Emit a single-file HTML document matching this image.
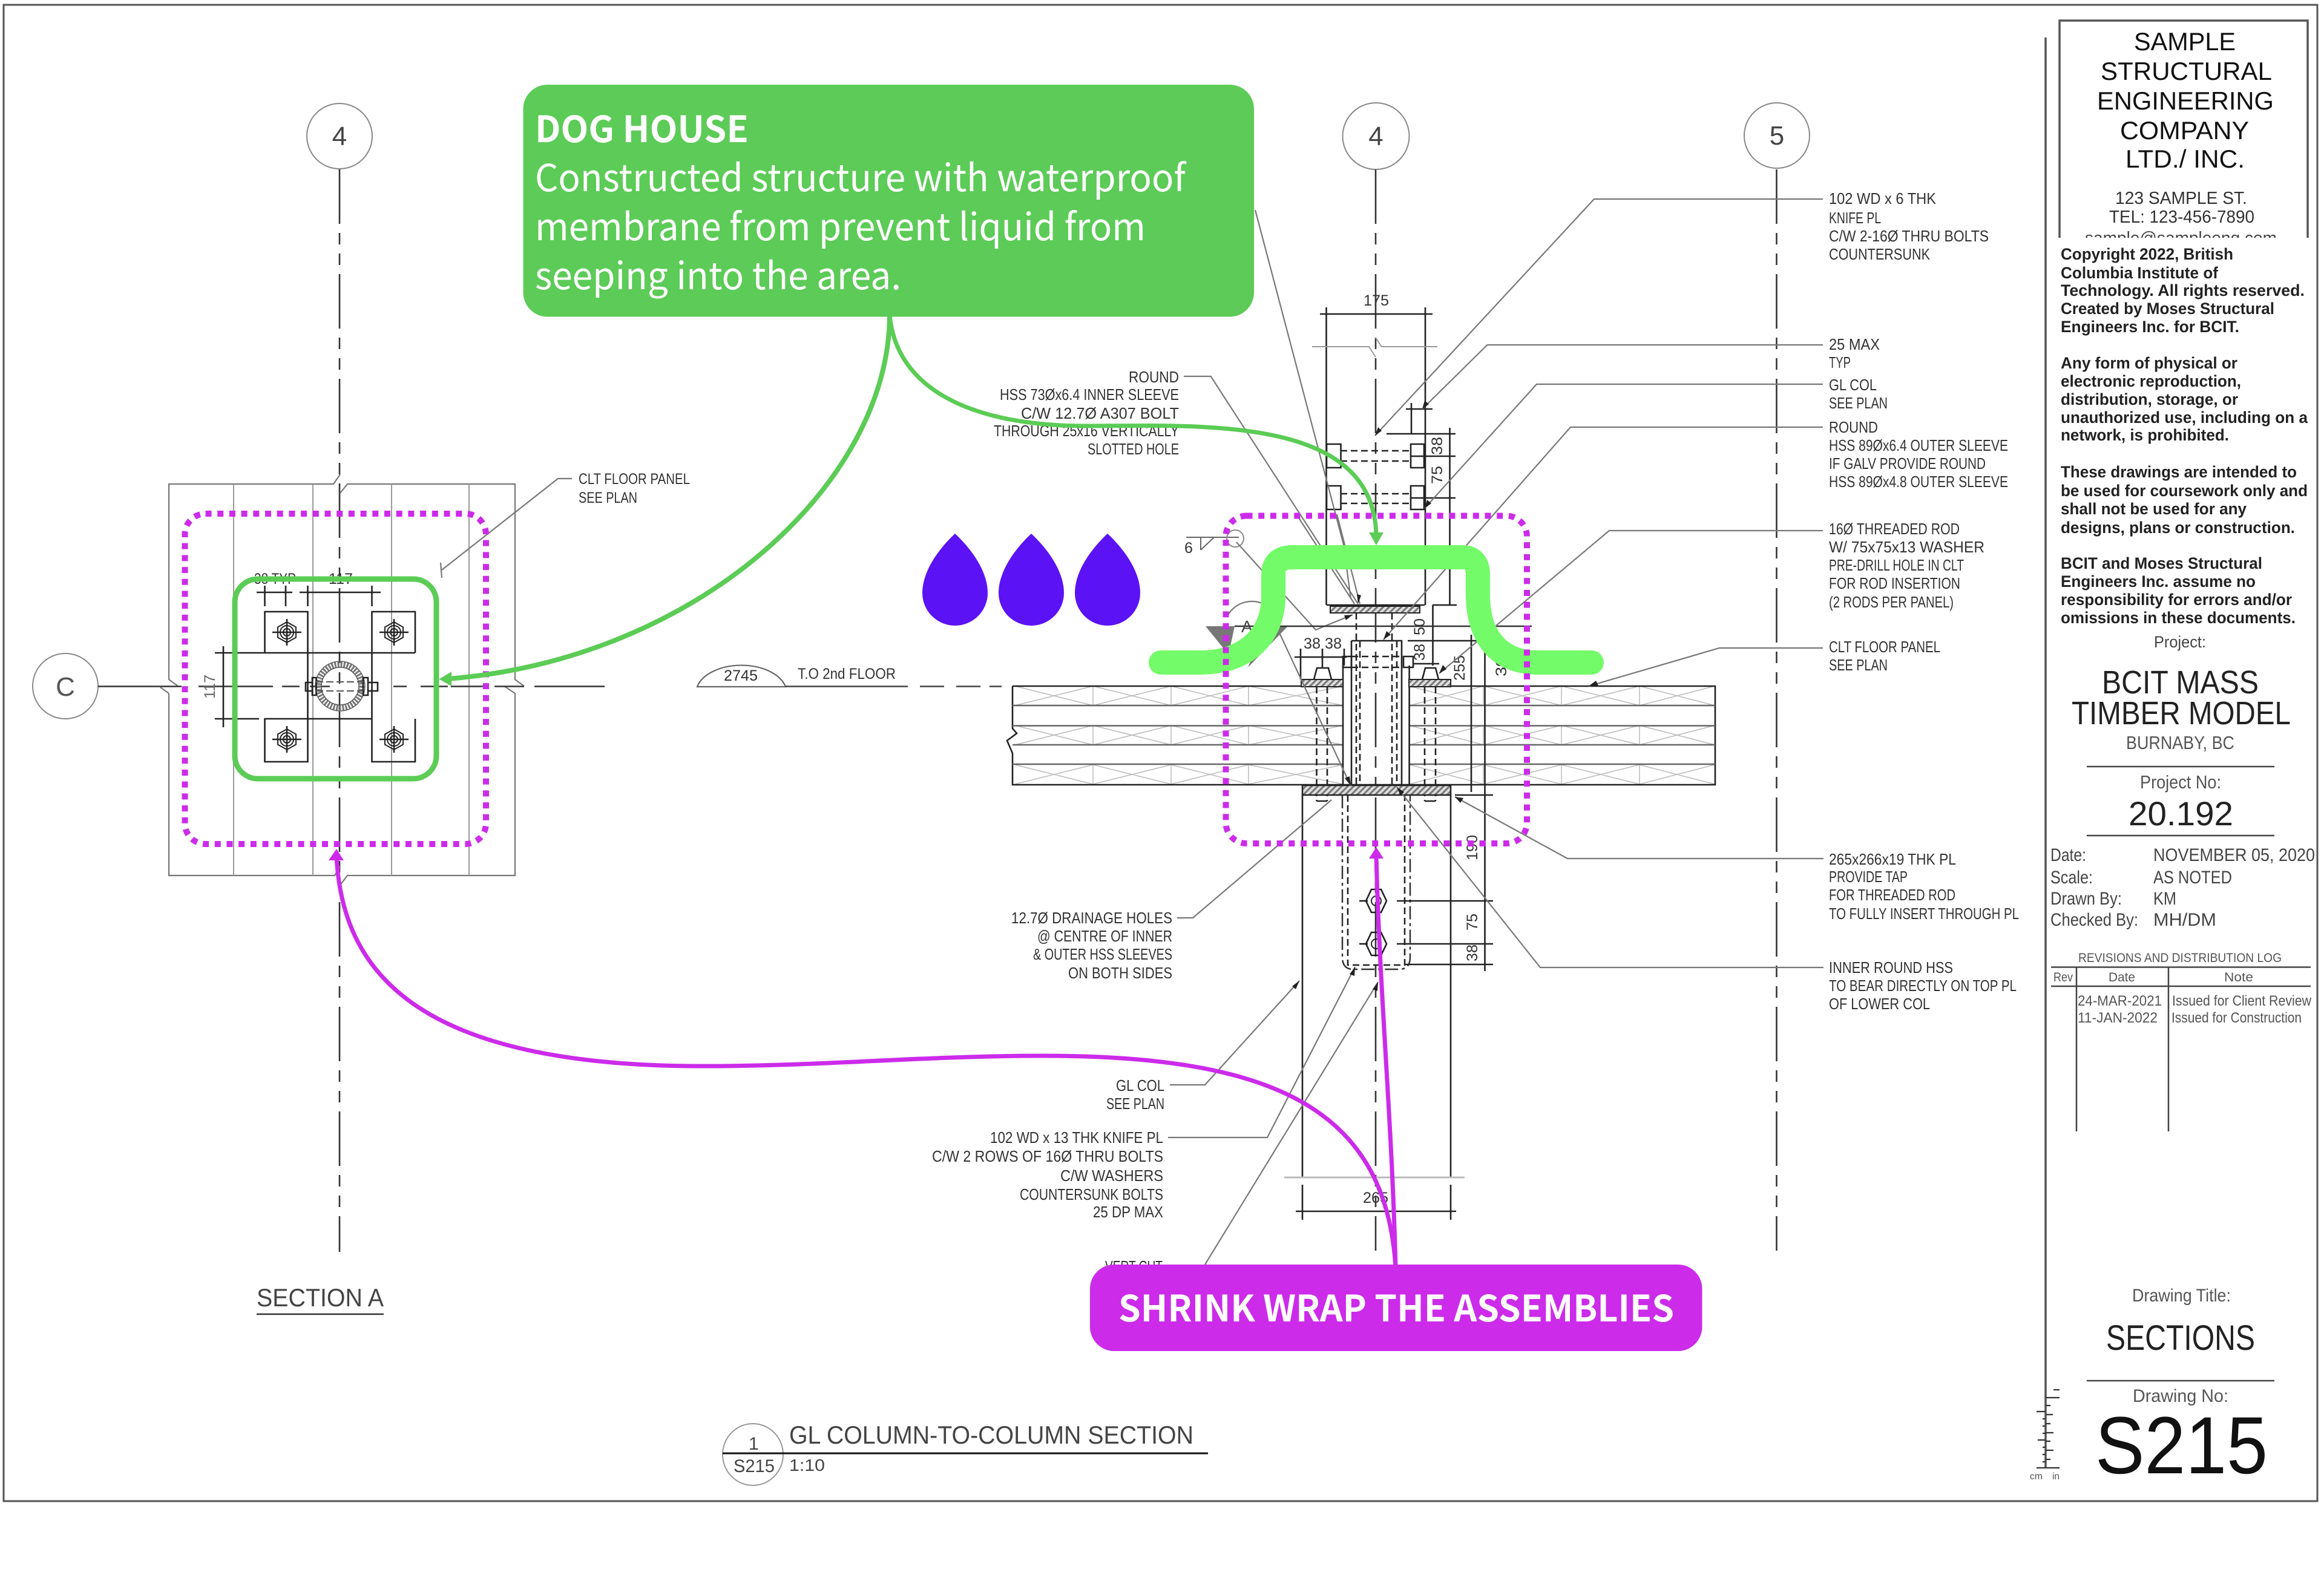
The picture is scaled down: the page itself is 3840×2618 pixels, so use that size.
<!DOCTYPE html>
<html><head><meta charset="utf-8"><title>S215 Sections</title>
<style>
html,body{margin:0;padding:0;background:#fff;width:3840px;height:2618px;overflow:hidden}
svg{display:block}
text{font-family:"Liberation Sans",sans-serif;fill:#333}
.t{font-size:25px}
.o{fill:none;stroke:#222;stroke-width:2.6}
.l{fill:none;stroke:#777;stroke-width:2.2}
.g{fill:none;stroke:#999;stroke-width:2}
.h{fill:none;stroke:#bbb;stroke-width:1.5}
.d{fill:none;stroke:#222;stroke-width:2.6;stroke-dasharray:11 6}
.c{fill:none;stroke:#333;stroke-width:2.6;stroke-dasharray:90 15 19 15 19 15}
.lg{font-size:27px;font-weight:700;fill:#222}
.tb{font-size:30px;fill:#444}
.n{font-size:26px;fill:#333}
</style></head><body>
<svg xmlns="http://www.w3.org/2000/svg" width="3840" height="2618" viewBox="0 0 3840 2618">
<defs>
<pattern id="hat" width="7" height="7" patternUnits="userSpaceOnUse" patternTransform="rotate(45)"><rect width="7" height="7" fill="#ddd"/><rect width="3" height="7" fill="#777"/></pattern>
<g id="pb"><path class="o" style="stroke-width:2" d="M0-17L15-8.500V8.500L0 17L-15 8.500V-8.500Z"/><circle r="11" class="o" style="stroke-width:2"/><circle r="6" class="o" style="stroke-width:2"/><path class="o" d="M-24 0H24M0-22V22"/></g>
<g id="hx"><path class="o" d="M-8-19H8L17 0L8 19H-8L-17 0Z"/><circle r="8" class="o" style="stroke-width:2"/><path class="o" d="M-28 0H-14"/></g>
<g id="xr"><path class="h" d="M1677 0L1806 32M1677 32L1806 0M1806 0L1935 32M1806 32L1935 0M1935 0L2063 32M1935 32L2063 0M2063 0L2219 32M2063 32L2219 0M2329 0L2451 32M2329 32L2451 0M2451 0L2580 32M2451 32L2580 0M2580 0L2709 32M2580 32L2709 0M2709 0L2833 32M2709 32L2833 0M1806 0V32M1935 0V32M2063 0V32M2451 0V32M2580 0V32M2709 0V32"/></g>
</defs>
<rect width="3840" height="2618" fill="#fff"/>

<!-- sheet frame -->
<rect x="6" y="8" width="3823" height="2473" fill="none" stroke="#555" stroke-width="3"/>
<path d="M3380 62V2426" fill="none" stroke="#555" stroke-width="3.500"/>
<path d="M3403 393V34H3813V393" fill="none" stroke="#555" stroke-width="3.500"/>

<!-- ============ SECTION A plan ============ -->
<circle cx="561" cy="225" r="54" fill="#fff" stroke="#888" stroke-width="2"/>
<text x="561" y="240" text-anchor="middle" style="font-size:44px;fill:#444">4</text>
<path class="c" d="M561 280V2069"/>
<circle cx="108" cy="1134" r="54" fill="#fff" stroke="#888" stroke-width="2"/>
<text x="108" y="1150" text-anchor="middle" style="font-size:44px;fill:#555">C</text>
<path class="l" d="M279 1123V830M279 800V800M279 1146V1447H553L562 1432M562 1463L574 1447H851V1146L833 1134M866 1134L851 1123V800H574L562 815M562 784L551 800H279V1123L294 1134M265 1136L279 1146"/>
<path class="g" d="M386 800V1447M517 800V1447M647 800V1447M775 800V1447"/>
<path d="M162 1134.500H300M328 1134.500H451M466 1134.500H495M512 1134.500H545M650 1134.500H672M695 1134.500H740M745 1134.500H799M817 1134.500H866M883 1134.500H999" fill="none" stroke="#333" stroke-width="2.600"/>
<path class="o" d="M437.500 1079V1011H508.500V1259H437.500V1188H614.500V1259H686V1188M686 1079V1011H614.500V1188M428 1079H686M355 1079H428M355 1188H428"/>
<path class="o" d="M369 1068V1202M424 979H483M495 979H629M437.500 968V1002M472 968V1002M508.500 968V1002M614.500 968V1002"/>
<use href="#pb" x="474" y="1045"/><use href="#pb" x="651" y="1045"/><use href="#pb" x="474" y="1222"/><use href="#pb" x="651" y="1222"/>
<circle cx="562" cy="1134" r="36" fill="none" stroke="#777" stroke-width="10" stroke-dasharray="3 2"/>
<circle cx="562" cy="1134" r="41" fill="none" stroke="#666" stroke-width="1.500"/>
<circle cx="562" cy="1134" r="31" fill="none" stroke="#555" stroke-width="1.500"/>
<path class="o" d="M516 1120H522.500V1149H516ZM505 1128H516V1142H505ZM600 1120H608V1149H600ZM608 1128H624V1142H608Z"/>
<path d="M522 1127H600M522 1142H600" fill="none" stroke="#555" stroke-width="2" stroke-dasharray="12 5"/>
<text class="t" x="420" y="965" textLength="69" lengthAdjust="spacingAndGlyphs">38 TYP</text>
<text class="t" x="543" y="965" textLength="40" lengthAdjust="spacingAndGlyphs">117</text>
<text class="t" transform="rotate(-90 355 1155)" x="355" y="1155" textLength="40" lengthAdjust="spacingAndGlyphs" style="fill:#666">117</text>
<path class="l" d="M945 791H922L730 942M728 930L730 955"/>
<text class="t" x="956" y="800" textLength="184" lengthAdjust="spacingAndGlyphs">CLT FLOOR PANEL</text>
<text class="t" x="956" y="831" textLength="97" lengthAdjust="spacingAndGlyphs">SEE PLAN</text>
<text x="424" y="2159" textLength="210" lengthAdjust="spacingAndGlyphs" style="font-size:42px;fill:#444">SECTION A</text>
<path d="M424 2172H634" stroke="#333" stroke-width="2.500"/>

<!-- level marker -->
<path d="M1152 1135A75 46 0 0 1 1298 1135Z" fill="#fff" stroke="#666" stroke-width="2.200"/>
<text class="t" x="1196" y="1125" textLength="56" lengthAdjust="spacingAndGlyphs">2745</text>
<text class="t" x="1318" y="1122" textLength="162" lengthAdjust="spacingAndGlyphs">T.O 2nd FLOOR</text>
<path d="M1298 1134.500H1500M1520 1134.500H1560M1580 1134.500H1620M1635 1134.500H1655" fill="none" stroke="#444" stroke-width="2.500"/>

<!-- ============ main section ============ -->
<circle cx="2273.500" cy="225" r="55" fill="#fff" stroke="#888" stroke-width="2"/>
<text x="2273.500" y="240" text-anchor="middle" style="font-size:44px;fill:#444">4</text>
<path class="c" d="M2273 280V2067"/>
<circle cx="2936" cy="224" r="54" fill="#fff" stroke="#888" stroke-width="2"/>
<text x="2936" y="239" text-anchor="middle" style="font-size:44px;fill:#444">5</text>
<path class="c" d="M2935.500 280V2067"/>

<!-- CLT -->
<use href="#xr" y="1134"/><use href="#xr" y="1199"/><use href="#xr" y="1264"/>
<path class="o" d="M1673 1134H2219M2329 1134H2834V1297H1673V1245L1664 1224L1680 1212L1673 1204V1134"/>
<path d="M1673 1166H2219M1673 1199.500H2219M1673 1231H2219M1673 1263H2219M2329 1166H2834M2329 1199.500H2834M2329 1231H2834M2329 1263H2834" fill="none" stroke="#666" stroke-width="2.500"/>

<!-- upper column -->
<path class="o" d="M2191.500 508V1000M2355 508V1000M2395.500 707V1000M2181 519H2367"/>
<path d="M2168 573H2262L2273 590M2273 558L2283 573H2375" fill="none" stroke="#999" stroke-width="2"/>
<text class="t" x="2253" y="505" textLength="42" lengthAdjust="spacingAndGlyphs">175</text>
<path class="o" d="M2192 734H2215.500V773H2192ZM2192 803H2215.500V842H2192ZM2331 734H2353V773H2331ZM2331 803H2353V842H2331ZM2332 666V717M2323 676H2367M2291 717H2405M2332 754H2405M2332 823H2405"/>
<path class="d" d="M2215 745H2331M2215 762H2331M2215 816H2331M2215 832H2331"/>
<text class="t" transform="rotate(-90 2383 752)" x="2383" y="752" textLength="30" lengthAdjust="spacingAndGlyphs">38</text>
<text class="t" transform="rotate(-90 2383 800)" x="2383" y="800" textLength="30" lengthAdjust="spacingAndGlyphs">75</text>

<!-- plates -->
<rect x="2198" y="1002" width="148" height="11" fill="url(#hat)" stroke="#222" stroke-width="2"/>
<path class="o" d="M2192 1000H2354M2367.500 1000V1100M2367 1000H2407"/>
<path class="o" d="M2233 1059H2316V1297M2233 1059V1297M2219 1100V1297M2328.600 1100V1297"/>
<path class="d" d="M2241 1013V1297M2247 1059V1297M2300 1013V1297M2308 1059V1297M2233 1085H2316M2233 1103H2316"/>
<path class="o" d="M2219 1085H2233V1103H2219ZM2319 1085H2335V1103H2319Z"/>
<rect x="2150" y="1123" width="69" height="12" fill="url(#hat)" stroke="#222" stroke-width="2"/>
<rect x="2328" y="1123" width="69" height="12" fill="url(#hat)" stroke="#222" stroke-width="2"/>
<path class="o" d="M2171 1123L2176 1104H2195L2200 1123M2350 1123L2355 1104H2372L2377 1123"/>
<path class="d" d="M2175.500 1135V1324M2193 1135V1324M2354 1135V1324M2372 1135V1324"/>
<path class="o" d="M2175.500 1324H2193M2354 1324H2372"/>
<rect x="2152" y="1298" width="245" height="16" fill="url(#hat)" stroke="#222" stroke-width="2.500"/>
<path class="o" d="M2139 1086H2225M2149 1072V1123M2185 1072V1104M2221 1072V1100M2326 1059H2442M2334 1097H2378M2431 1049V1309M2453.500 1074V1605M2404 1314H2467"/>
<text class="t" x="2154" y="1072" textLength="28" lengthAdjust="spacingAndGlyphs">38</text>
<text class="t" x="2189" y="1072" textLength="28" lengthAdjust="spacingAndGlyphs">38</text>
<text class="t" transform="rotate(-90 2354 1050)" x="2354" y="1050" textLength="28" lengthAdjust="spacingAndGlyphs">50</text>
<text class="t" transform="rotate(-90 2354 1092)" x="2354" y="1092" textLength="28" lengthAdjust="spacingAndGlyphs">38</text>
<text class="t" transform="rotate(-90 2420 1125)" x="2420" y="1125" textLength="42" lengthAdjust="spacingAndGlyphs">255</text>
<text class="t" transform="rotate(-90 2489 1118)" x="2489" y="1118" textLength="32" lengthAdjust="spacingAndGlyphs">30</text>

<!-- section mark & weld -->
<path d="M1960 888H2047" stroke="#666" stroke-width="2"/>
<path d="M1984 909L2006 888" stroke="#666" stroke-width="2"/><path d="M1984 888V909" stroke="#666" stroke-width="2"/>
<text class="t" x="1957" y="914">6</text>
<circle cx="2041" cy="890" r="14" fill="none" stroke="#888" stroke-width="2"/>
<path class="l" d="M2043 896L2174 1041L2235 1016M2142 850L2238 998M2209 850L2247 998M2114 1046L2232 1299"/>
<path class="l" d="M2027 1020A46 46 0 0 1 2096 1003"/>
<path d="M1992 1035H2040L2030 1082Z" fill="#777"/><path d="M2091 1035H2128L2062 1103Z" fill="#777"/>
<path d="M2040 1035H2531" stroke="#333" stroke-width="2.500"/>
<text x="2051" y="1045" style="font-size:28px;fill:#444">A</text>

<!-- lower column -->
<path class="o" d="M2152 1314V1945M2397 1314V1945M2152 1958V2016M2397 1958V2016M2141 2002H2406"/>
<path d="M2122 1946H2420" stroke="#bbb" stroke-width="3"/>
<path d="M2218 1314V1582Q2218 1602 2236 1602H2312Q2330 1602 2330 1582V1314" fill="none" stroke="#333" stroke-width="2.500" stroke-dasharray="22 6 5 6"/>
<path class="d" d="M2227 1314V1595H2321V1314"/>
<use href="#hx" x="2274" y="1489"/><use href="#hx" x="2274" y="1560"/>
<path class="o" d="M2308 1489H2467M2308 1560H2467M2321 1594H2467"/>
<text class="t" x="2252" y="1988" textLength="42" lengthAdjust="spacingAndGlyphs">265</text>
<text class="t" transform="rotate(-90 2441 1422)" x="2441" y="1422" textLength="42" lengthAdjust="spacingAndGlyphs">190</text>
<text class="t" transform="rotate(-90 2441 1538)" x="2441" y="1538" textLength="28" lengthAdjust="spacingAndGlyphs">75</text>
<text class="t" transform="rotate(-90 2441 1589)" x="2441" y="1589" textLength="28" lengthAdjust="spacingAndGlyphs">38</text>

<!-- right leaders -->
<path class="l" d="M3012 329H2634L2272 720M3012 570H2457.500L2350 676M3012 635H2539L2354 840M3012 706H2595L2286 1057M3012 877H2659L2378 1113M3012 1071H2841L2625 1134M3013 1419H2590L2404 1317M3013 1599H2545L2308 1301"/>
<path d="M2272 720l5-14 6 6ZM2350 676l4-14 7 6ZM2354 840l4-14 7 6ZM2286 1057l5-14 7 6ZM2378 1113l6-14 6 7ZM2625 1134l12-9 4 8ZM2404 1317l14 2-5 8ZM2308 1301l12 8-6 6ZM2244 998l-2-16 7 2ZM2235 1016l-14 1 3 8ZM2232 1299l-10-13 8-3Z" fill="#222"/>
<path class="l" d="M1956 622H2000.600L2244 998M2074 347L2220 900L2232 990"/>
<path class="l" d="M1945 1517H1971L2200 1322M1933 1793H1991L2147 1621M1930 1880H2094L2239 1598M1991 2090L2277 1623"/>
<path d="M2147 1621l-6 14-6-5ZM2239 1598l-1 15-8-3ZM2277 1623l-1 15-8-3Z" fill="#222"/>

<g class="t">
<text class="n" x="3022" y="337" textLength="177" lengthAdjust="spacingAndGlyphs">102 WD x 6 THK</text>
<text class="n" x="3022" y="369" textLength="86" lengthAdjust="spacingAndGlyphs">KNIFE PL</text>
<text class="n" x="3022" y="399" textLength="264" lengthAdjust="spacingAndGlyphs">C/W 2-16Ø THRU BOLTS</text>
<text class="n" x="3022" y="429" textLength="167" lengthAdjust="spacingAndGlyphs">COUNTERSUNK</text>
<text class="n" x="3022" y="578" textLength="84" lengthAdjust="spacingAndGlyphs">25 MAX</text>
<text class="n" x="3022" y="608" textLength="36" lengthAdjust="spacingAndGlyphs">TYP</text>
<text class="n" x="3022" y="645" textLength="79" lengthAdjust="spacingAndGlyphs">GL COL</text>
<text class="n" x="3022" y="675" textLength="97" lengthAdjust="spacingAndGlyphs">SEE PLAN</text>
<text class="n" x="3022" y="715" textLength="81" lengthAdjust="spacingAndGlyphs">ROUND</text>
<text class="n" x="3022" y="745" textLength="296" lengthAdjust="spacingAndGlyphs">HSS 89Øx6.4 OUTER SLEEVE</text>
<text class="n" x="3022" y="775" textLength="259" lengthAdjust="spacingAndGlyphs">IF GALV PROVIDE ROUND</text>
<text class="n" x="3022" y="805" textLength="296" lengthAdjust="spacingAndGlyphs">HSS 89Øx4.8 OUTER SLEEVE</text>
<text class="n" x="3022" y="883" textLength="216" lengthAdjust="spacingAndGlyphs">16Ø THREADED ROD</text>
<text class="n" x="3022" y="913" textLength="257" lengthAdjust="spacingAndGlyphs">W/ 75x75x13 WASHER</text>
<text class="n" x="3022" y="943" textLength="223" lengthAdjust="spacingAndGlyphs">PRE-DRILL HOLE IN CLT</text>
<text class="n" x="3022" y="973" textLength="217" lengthAdjust="spacingAndGlyphs">FOR ROD INSERTION</text>
<text class="n" x="3022" y="1004" textLength="206" lengthAdjust="spacingAndGlyphs">(2 RODS PER PANEL)</text>
<text class="n" x="3022" y="1078" textLength="184" lengthAdjust="spacingAndGlyphs">CLT FLOOR PANEL</text>
<text class="n" x="3022" y="1108" textLength="97" lengthAdjust="spacingAndGlyphs">SEE PLAN</text>
<text class="n" x="3022" y="1429" textLength="210" lengthAdjust="spacingAndGlyphs">265x266x19 THK PL</text>
<text class="n" x="3022" y="1458" textLength="130" lengthAdjust="spacingAndGlyphs">PROVIDE TAP</text>
<text class="n" x="3022" y="1488" textLength="209" lengthAdjust="spacingAndGlyphs">FOR THREADED ROD</text>
<text class="n" x="3022" y="1519" textLength="314" lengthAdjust="spacingAndGlyphs">TO FULLY INSERT THROUGH PL</text>
<text class="n" x="3022" y="1608" textLength="205" lengthAdjust="spacingAndGlyphs">INNER ROUND HSS</text>
<text class="n" x="3022" y="1638" textLength="310" lengthAdjust="spacingAndGlyphs">TO BEAR DIRECTLY ON TOP PL</text>
<text class="n" x="3022" y="1668" textLength="167" lengthAdjust="spacingAndGlyphs">OF LOWER COL</text>

<text class="n" x="1865" y="632" textLength="83" lengthAdjust="spacingAndGlyphs">ROUND</text>
<text class="n" x="1652" y="661" textLength="296" lengthAdjust="spacingAndGlyphs">HSS 73Øx6.4 INNER SLEEVE</text>
<text class="n" x="1687" y="692" textLength="261" lengthAdjust="spacingAndGlyphs">C/W 12.7Ø A307 BOLT</text>
<text class="n" x="1642" y="721" textLength="306" lengthAdjust="spacingAndGlyphs">THROUGH 25x16 VERTICALLY</text>
<text class="n" x="1797" y="751" textLength="151" lengthAdjust="spacingAndGlyphs">SLOTTED HOLE</text>

<text class="n" x="1671" y="1526" textLength="266" lengthAdjust="spacingAndGlyphs">12.7Ø DRAINAGE HOLES</text>
<text class="n" x="1714" y="1556" textLength="223" lengthAdjust="spacingAndGlyphs">@ CENTRE OF INNER</text>
<text class="n" x="1707" y="1586" textLength="230" lengthAdjust="spacingAndGlyphs">&amp; OUTER HSS SLEEVES</text>
<text class="n" x="1765" y="1617" textLength="172" lengthAdjust="spacingAndGlyphs">ON BOTH SIDES</text>
<text class="n" x="1844" y="1803" textLength="80" lengthAdjust="spacingAndGlyphs">GL COL</text>
<text class="n" x="1828" y="1833" textLength="96" lengthAdjust="spacingAndGlyphs">SEE PLAN</text>
<text class="n" x="1636" y="1889" textLength="286" lengthAdjust="spacingAndGlyphs">102 WD x 13 THK KNIFE PL</text>
<text class="n" x="1540" y="1920" textLength="382" lengthAdjust="spacingAndGlyphs">C/W 2 ROWS OF 16Ø THRU BOLTS</text>
<text class="n" x="1752" y="1952" textLength="170" lengthAdjust="spacingAndGlyphs">C/W WASHERS</text>
<text class="n" x="1685" y="1983" textLength="237" lengthAdjust="spacingAndGlyphs">COUNTERSUNK BOLTS</text>
<text class="n" x="1806" y="2012" textLength="116" lengthAdjust="spacingAndGlyphs">25 DP MAX</text>
<text class="n" x="1826" y="2102" textLength="95" lengthAdjust="spacingAndGlyphs">VERT CUT</text>
</g>

<!-- bottom title -->
<ellipse cx="1244" cy="2404" rx="50" ry="51" fill="#fff" stroke="#999" stroke-width="2"/>
<path d="M1194 2402H1996" stroke="#111" stroke-width="3"/>
<text x="1237" y="2396" style="font-size:30px;fill:#444">1</text>
<text x="1212" y="2433" textLength="68" lengthAdjust="spacingAndGlyphs" style="font-size:30px;fill:#444">S215</text>
<text x="1304" y="2386" textLength="668" lengthAdjust="spacingAndGlyphs" style="font-size:42px;fill:#444">GL COLUMN-TO-COLUMN SECTION</text>
<text x="1304" y="2431" textLength="59" lengthAdjust="spacingAndGlyphs" style="font-size:28px;fill:#444">1:10</text>

<!-- title block -->
<text x="3526" y="83" textLength="168" lengthAdjust="spacingAndGlyphs" style="font-size:42px;fill:#111">SAMPLE</text>
<text x="3471" y="132" textLength="283" lengthAdjust="spacingAndGlyphs" style="font-size:42px;fill:#111">STRUCTURAL</text>
<text x="3465" y="181" textLength="292" lengthAdjust="spacingAndGlyphs" style="font-size:42px;fill:#111">ENGINEERING</text>
<text x="3503" y="230" textLength="213" lengthAdjust="spacingAndGlyphs" style="font-size:42px;fill:#111">COMPANY</text>
<text x="3512" y="277" textLength="197" lengthAdjust="spacingAndGlyphs" style="font-size:42px;fill:#111">LTD./ INC.</text>
<text x="3495" y="337" textLength="218" lengthAdjust="spacingAndGlyphs" style="font-size:29px;fill:#333">123 SAMPLE ST.</text>
<text x="3485" y="368" textLength="240" lengthAdjust="spacingAndGlyphs" style="font-size:29px;fill:#333">TEL: 123-456-7890</text>
<text x="3445" y="403" textLength="317" lengthAdjust="spacingAndGlyphs" style="font-size:29px;fill:#444">sample@sampleeng.com</text>
<rect x="3400" y="393" width="416" height="30" fill="#fff"/>

<text class="lg" x="3405" y="429" textLength="285" lengthAdjust="spacingAndGlyphs">Copyright 2022, British</text>
<text class="lg" x="3405" y="460" textLength="260" lengthAdjust="spacingAndGlyphs">Columbia Institute of</text>
<text class="lg" x="3405" y="489" textLength="403" lengthAdjust="spacingAndGlyphs">Technology.  All rights reserved.</text>
<text class="lg" x="3405" y="519" textLength="353" lengthAdjust="spacingAndGlyphs">Created by Moses Structural</text>
<text class="lg" x="3405" y="549" textLength="295" lengthAdjust="spacingAndGlyphs">Engineers Inc. for BCIT.</text>
<text class="lg" x="3405" y="609" textLength="292" lengthAdjust="spacingAndGlyphs">Any form of physical or</text>
<text class="lg" x="3405" y="639" textLength="298" lengthAdjust="spacingAndGlyphs">electronic reproduction,</text>
<text class="lg" x="3405" y="669" textLength="293" lengthAdjust="spacingAndGlyphs">distribution, storage, or</text>
<text class="lg" x="3405" y="699" textLength="408" lengthAdjust="spacingAndGlyphs">unauthorized use, including on a</text>
<text class="lg" x="3405" y="728" textLength="278" lengthAdjust="spacingAndGlyphs">network, is prohibited.</text>
<text class="lg" x="3405" y="789" textLength="390" lengthAdjust="spacingAndGlyphs">These drawings are intended to</text>
<text class="lg" x="3405" y="820" textLength="408" lengthAdjust="spacingAndGlyphs">be used for coursework only and</text>
<text class="lg" x="3405" y="850" textLength="307" lengthAdjust="spacingAndGlyphs">shall not be used for any</text>
<text class="lg" x="3405" y="881" textLength="387" lengthAdjust="spacingAndGlyphs">designs, plans or construction.</text>
<text class="lg" x="3405" y="940" textLength="333" lengthAdjust="spacingAndGlyphs">BCIT and Moses Structural</text>
<text class="lg" x="3405" y="970" textLength="322" lengthAdjust="spacingAndGlyphs">Engineers Inc. assume no</text>
<text class="lg" x="3405" y="1000" textLength="382" lengthAdjust="spacingAndGlyphs">responsibility for errors and/or</text>
<text class="lg" x="3405" y="1030" textLength="388" lengthAdjust="spacingAndGlyphs">omissions in these documents.</text>

<text x="3559" y="1070" textLength="86" lengthAdjust="spacingAndGlyphs" style="font-size:27px;fill:#444">Project:</text>
<text x="3473" y="1146" textLength="259" lengthAdjust="spacingAndGlyphs" style="font-size:54px;fill:#222">BCIT MASS</text>
<text x="3423" y="1197" textLength="362" lengthAdjust="spacingAndGlyphs" style="font-size:54px;fill:#222">TIMBER MODEL</text>
<text x="3513" y="1238" textLength="179" lengthAdjust="spacingAndGlyphs" style="font-size:31px;fill:#555">BURNABY, BC</text>
<path d="M3448 1267H3758M3448 1381H3758M3448 2282H3758" stroke="#444" stroke-width="2.500"/>
<text x="3536" y="1303" textLength="134" lengthAdjust="spacingAndGlyphs" style="font-size:31px;fill:#555">Project No:</text>
<text x="3517" y="1364" textLength="173" lengthAdjust="spacingAndGlyphs" style="font-size:56px;fill:#222">20.192</text>
<text class="tb" x="3388" y="1423" textLength="59" lengthAdjust="spacingAndGlyphs">Date:</text>
<text class="tb" x="3388" y="1460" textLength="70" lengthAdjust="spacingAndGlyphs">Scale:</text>
<text class="tb" x="3388" y="1495" textLength="118" lengthAdjust="spacingAndGlyphs">Drawn By:</text>
<text class="tb" x="3388" y="1530" textLength="145" lengthAdjust="spacingAndGlyphs">Checked By:</text>
<text class="tb" x="3558" y="1423" textLength="267" lengthAdjust="spacingAndGlyphs">NOVEMBER 05, 2020</text>
<text class="tb" x="3558" y="1460" textLength="130" lengthAdjust="spacingAndGlyphs">AS NOTED</text>
<text class="tb" x="3558" y="1495" textLength="38" lengthAdjust="spacingAndGlyphs">KM</text>
<text class="tb" x="3558" y="1530" textLength="104" lengthAdjust="spacingAndGlyphs">MH/DM</text>
<text x="3434" y="1590" textLength="336" lengthAdjust="spacingAndGlyphs" style="font-size:21px;fill:#555">REVISIONS AND DISTRIBUTION LOG</text>
<path d="M3389 1598.500H3818M3389 1630H3818M3431 1598V1870M3583 1598V1870" stroke="#444" stroke-width="2.500" fill="none"/>
<text x="3393" y="1622" textLength="32" lengthAdjust="spacingAndGlyphs" style="font-size:21px;fill:#555">Rev</text>
<text x="3484" y="1622" textLength="44" lengthAdjust="spacingAndGlyphs" style="font-size:21px;fill:#555">Date</text>
<text x="3675" y="1622" textLength="48" lengthAdjust="spacingAndGlyphs" style="font-size:21px;fill:#555">Note</text>
<text x="3433" y="1662" textLength="139" lengthAdjust="spacingAndGlyphs" style="font-size:24px;fill:#555">24-MAR-2021</text>
<text x="3433" y="1690" textLength="132" lengthAdjust="spacingAndGlyphs" style="font-size:24px;fill:#555">11-JAN-2022</text>
<text x="3589" y="1662" textLength="230" lengthAdjust="spacingAndGlyphs" style="font-size:24px;fill:#555">Issued for Client Review</text>
<text x="3588" y="1690" textLength="215" lengthAdjust="spacingAndGlyphs" style="font-size:24px;fill:#555">Issued for Construction</text>

<text x="3523" y="2151" textLength="163" lengthAdjust="spacingAndGlyphs" style="font-size:30px;fill:#555">Drawing Title:</text>
<text x="3480" y="2231" textLength="246" lengthAdjust="spacingAndGlyphs" style="font-size:58px;fill:#222">SECTIONS</text>
<text x="3524" y="2317" textLength="158" lengthAdjust="spacingAndGlyphs" style="font-size:30px;fill:#555">Drawing No:</text>
<text x="3462" y="2435" textLength="285" lengthAdjust="spacingAndGlyphs" style="font-size:134px;fill:#111">S215</text>

<path d="M3380 2310H3403M3393 2297H3403M3380 2338H3392M3380 2368H3393M3380 2397H3393M3380 2323H3388M3380 2353H3388M3380 2382H3388M3380 2412H3388M3365 2333H3380M3367 2380H3380M3375 2345H3380M3375 2357H3380M3375 2369H3380M3375 2392H3380M3375 2404H3380M3375 2416H3380M3365 2426H3403" stroke="#333" stroke-width="2.200" fill="none"/>
<text x="3354" y="2445" textLength="21" lengthAdjust="spacingAndGlyphs" style="font-size:16px;fill:#555">cm</text>
<text x="3391" y="2445" textLength="12" lengthAdjust="spacingAndGlyphs" style="font-size:16px;fill:#555">in</text>

<!-- ============ annotations ============ -->
<path d="M1918 1095H1983C2060 1095 2104 1050 2104 985V950Q2104 921 2136 921H2416Q2442 921 2442 950V983C2442 1050 2475 1095 2540 1095H2630" fill="none" stroke="#74FB69" stroke-width="40" stroke-linecap="round" stroke-linejoin="round"/>

<rect x="388" y="957" width="333" height="330" rx="38" fill="none" stroke="#5BCC55" stroke-width="9"/>
<rect x="305.500" y="849" width="497.500" height="546" rx="34" fill="none" stroke="#CC2BEA" stroke-width="10" stroke-dasharray="10 9.700"/>
<rect x="2025.500" y="852.500" width="497.500" height="541.500" rx="34" fill="none" stroke="#CC2BEA" stroke-width="10" stroke-dasharray="10 9.700"/>

<!-- drops -->
<path d="M1578 882C1606 908 1632 945 1632 980A54 54 0 0 1 1524 980C1524 945 1550 908 1578 882Z" fill="#5B12F5"/>
<path d="M1704 882C1732 908 1758 945 1758 980A54 54 0 0 1 1650 980C1650 945 1676 908 1704 882Z" fill="#5B12F5"/>
<path d="M1830 882C1858 908 1884 945 1884 980A54 54 0 0 1 1776 980C1776 945 1802 908 1830 882Z" fill="#5B12F5"/>

<!-- green connectors -->
<path d="M1470 520C1470 800 1150 1090 740 1122" fill="none" stroke="#5BCC55" stroke-width="8"/>
<path d="M725.500 1122.500L746 1110L746 1134Z" fill="#5BCC55"/>
<path d="M1470 520C1480 640 1600 705 1800 704C2000 703 2270 690 2274 885" fill="none" stroke="#5BCC55" stroke-width="7"/>
<path d="M2274 901L2262 880H2286Z" fill="#5BCC55"/>

<!-- purple connectors -->
<path d="M556 1415C565 1600 680 1760 1150 1762C1350 1763 1520 1745 1723 1745C2100 1745 2290 1830 2306 2095" fill="none" stroke="#CC2BEA" stroke-width="7"/>
<path d="M556 1403L543 1422H568Z" fill="#CC2BEA"/>
<path d="M2306 2095C2300 1850 2280 1650 2274 1415" fill="none" stroke="#CC2BEA" stroke-width="7"/>
<path d="M2274 1400L2262 1419H2286Z" fill="#CC2BEA"/>

<!-- callouts -->
<rect x="864.500" y="140" width="1207.500" height="383.500" rx="40" fill="#5CCB57"/>
<text x="884" y="235" textLength="353" lengthAdjust="spacingAndGlyphs" style="font-family:'Noto Sans CJK SC','Liberation Sans',sans-serif;font-size:60px;font-weight:700;fill:#fff">DOG HOUSE</text>
<text x="884" y="316" textLength="1075" lengthAdjust="spacingAndGlyphs" style="font-family:'Noto Sans CJK SC','Liberation Sans',sans-serif;font-size:62px;fill:#fff">Constructed structure with waterproof</text>
<text x="884" y="397" textLength="1009" lengthAdjust="spacingAndGlyphs" style="font-family:'Noto Sans CJK SC','Liberation Sans',sans-serif;font-size:62px;fill:#fff">membrane from prevent liquid from</text>
<text x="884" y="478" textLength="605" lengthAdjust="spacingAndGlyphs" style="font-family:'Noto Sans CJK SC','Liberation Sans',sans-serif;font-size:62px;fill:#fff">seeping into the area.</text>
<rect x="1801" y="2090" width="1011.500" height="143" rx="40" fill="#CC2BEA"/>
<text x="1848" y="2184" textLength="918" lengthAdjust="spacingAndGlyphs" style="font-family:'Noto Sans CJK SC','Liberation Sans',sans-serif;font-size:60px;font-weight:700;fill:#fff">SHRINK WRAP THE ASSEMBLIES</text>
</svg>
</body></html>
